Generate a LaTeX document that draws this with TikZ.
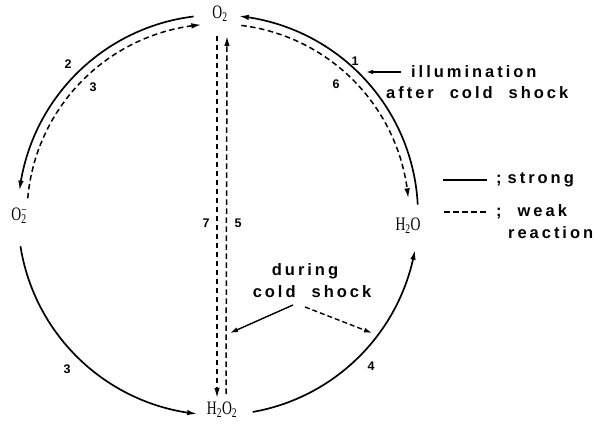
\documentclass[tikz,border=0pt]{standalone}
\usepackage{fontspec}
\setmainfont{Liberation Sans}
\newfontfamily\chemfont{Liberation Serif}
\usetikzlibrary{arrows.meta,calc,bending}
\newcommand{\chemtxt}[1]{\scalebox{0.72}[1]{#1}}
\begin{document}
\begin{tikzpicture}[x=1pt,y=-1pt,
  tipA/.tip={Latex[length=10pt,width=5.5pt]},
  strong/.style={line width=1.7pt,-tipA},
  weakline/.style={line width=1.5pt,dash pattern=on 5.5pt off 3.5pt,-tipA},
  plainline/.style={line width=1.4pt},
  chem/.style={font=\chemfont\fontsize{19}{19}\selectfont,inner sep=1pt},
  num/.style={font=\bfseries\fontsize{12.5}{12.5}\selectfont,inner sep=0pt},
  lbl/.style={font=\fontsize{16.5}{18}\selectfont\bfseries\addfontfeature{LetterSpace=18},inner sep=0pt,align=left}]
\useasboundingbox (0,0) rectangle (608,427);
% circle centre
\coordinate (c) at (218,215);
% species
\node[chem] (O2)   at (220,14)  {\chemtxt{O\textsubscript{2}}};
\node[chem] (Om)   at (19,216)  {\chemtxt{O\rlap{\textsuperscript{−}}\textsubscript{2}}};
\node[chem] (H2O)  at (408,226) {\chemtxt{H\textsubscript{2}O}};
\node[chem] (H2O2) at (222,410) {\chemtxt{H\textsubscript{2}O\textsubscript{2}}};
% arcs
\draw[strong]   ($(c)+(-97:200)$)  arc[start angle=-97, end angle=-173, radius=200];
\draw[weakline] ($(c)+(-175:191)$) arc[start angle=-175,end angle=-95, radius=191];
\draw[strong]   ($(c)+(-3:200)$)   arc[start angle=-3,  end angle=-84, radius=200];
\draw[weakline] ($(c)+(-83:191)$)  arc[start angle=-83, end angle=-5,  radius=191];
\draw[strong]   ($(c)+(-189:200)$) arc[start angle=-189,end angle=-264,radius=200];
\draw[strong]   ($(c)+(-280:200)$) arc[start angle=-280,end angle=-350,radius=200];
% vertical dashed reactions
\coordinate (v7a) at (217,36);  \coordinate (v7b) at (217,398);
\coordinate (v5a) at (226,394); \coordinate (v5b) at (227,36);
\draw[weakline] (v7a) -- (v7b);
\draw[weakline] (v5a) -- (v5b);
% reaction numbers
\node[num] (n2)  at (68,64)   {2};
\node[num] (n3a) at (93,87)   {3};
\node[num] (n1)  at (355,61)  {1};
\node[num] (n6)  at (336,84)  {6};
\node[num] (n7)  at (206,223) {7};
\node[num] (n5)  at (238,223) {5};
\node[num] (n3b) at (67,369)  {3};
\node[num] (n4)  at (371,366) {4};
% illumination label
\node[lbl,anchor=west] (ill) at (411,72) {illumination};
\node[lbl,anchor=west] (acs) at (386,93) {after\hspace*{16pt}cold\hspace*{16pt}shock};
\coordinate (illtip) at (366,72);
\draw[plainline,-{Latex[length=7pt,width=4.5pt]}] (ill.west) ++(-10,0) coordinate (illtail) (illtail) -- (illtip);
% legend
\coordinate (ls1) at (443,180); \coordinate (ls2) at (487,180);
\coordinate (lw1) at (444,212); \coordinate (lw2) at (487,212);
\draw[plainline] (ls1) -- (ls2);
\draw[line width=1.4pt,dash pattern=on 6pt off 3pt] (lw1) -- (lw2);
\node[lbl,anchor=west] (strg) at (496,180) {;\hspace*{6pt}strong};
\node[lbl,anchor=west] (wk)   at (496,212) {;\hspace*{16pt}weak};
\node[lbl,anchor=west] (rea)  at (508,233) {reaction};
% during cold shock
\node[lbl] (dur) at (305,271) {during};
\node[lbl] (cs)  at (312,292) {cold\hspace*{16pt}shock};
\coordinate (d1) at (293,305); \coordinate (d1t) at (230,333);
\coordinate (d2) at (305,307); \coordinate (d2t) at (372,333);
\draw[plainline,-{Latex[length=8pt,width=5pt]}] (d1) -- (d1t);
\draw[plainline,dash pattern=on 5pt off 3pt,-{Latex[length=8pt,width=5pt]}] (d2) -- (d2t);
\end{tikzpicture}
\end{document}
